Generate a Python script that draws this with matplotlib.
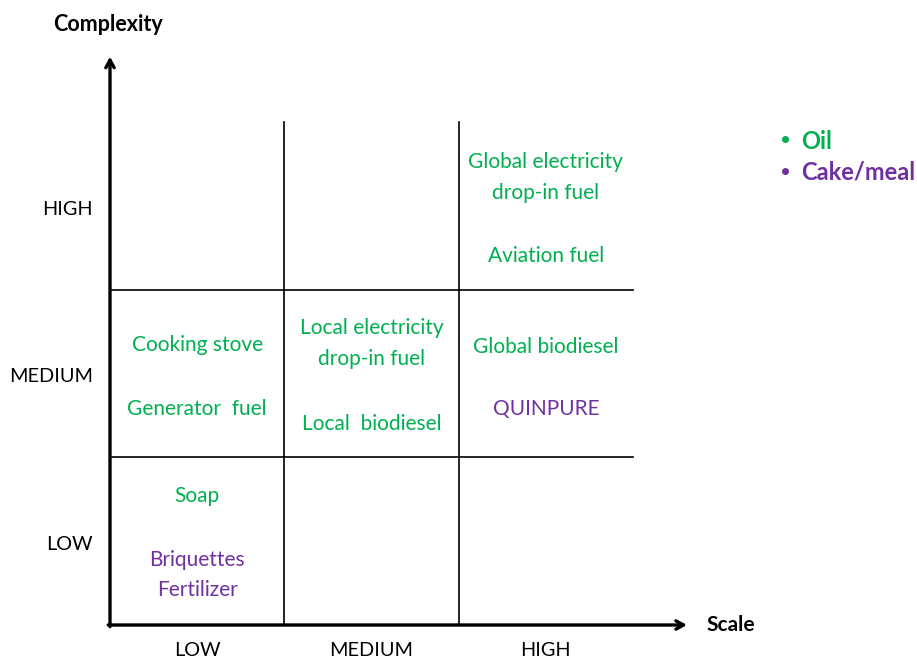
import matplotlib
matplotlib.use("Agg")
import matplotlib.pyplot as plt

plt.rcParams['font.family'] = ['Lato', 'DejaVu Sans']

# --- data ---
scale_levels = ["LOW", "MEDIUM", "HIGH"]
complexity_levels = ["LOW", "MEDIUM", "HIGH"]
item_labels = ["Global electricity\ndrop-in fuel", "Aviation fuel",
               "Cooking stove", "Generator  fuel",
               "Local electricity\ndrop-in fuel", "Local  biodiesel",
               "Global biodiesel", "QUINPURE",
               "Soap", "Briquettes\nFertilizer"]
item_scale = [2, 2, 0, 0, 1, 1, 2, 2, 0, 0]            # column index
item_pos = [2.67, 2.20, 1.67, 1.29, 1.68, 1.20, 1.66, 1.29, 0.77, 0.30]
item_type = ["Oil", "Oil", "Oil", "Oil", "Oil", "Oil", "Oil", "Cake/meal", "Oil", "Cake/meal"]
legend_labels = ["Oil", "Cake/meal"]

colors = {"Oil": "#00B050", "Cake/meal": "#7030A0"}

fig = plt.figure(figsize=(9.17, 6.59), dpi=100)
ax = fig.add_axes([110/917, 34/659, 523/917, 503/659])
ax.set_xlim(0, 3)
ax.set_ylim(0, 3)
ax.axis('off')

# grid lines
for x in [1, 2]:
    ax.plot([x, x], [0, 3], color='black', lw=1.2, clip_on=False)
for y in [1, 2]:
    ax.plot([0, 3], [y, y], color='black', lw=1.2, clip_on=False)

# axes arrows
arrow_kw = dict(arrowstyle='->,head_length=0.55,head_width=0.3', lw=2.4, color='black',
                shrinkA=0, shrinkB=0)
ax.annotate('', xy=(3.31, 0), xytext=(-0.01, 0), arrowprops=arrow_kw, annotation_clip=False)
ax.annotate('', xy=(0, 3.39), xytext=(0, -0.01), arrowprops=arrow_kw, annotation_clip=False)

ax.text(-0.01, 3.58, "Complexity", ha='center', va='center', fontsize=15.5, fontweight='bold')
ax.text(3.56, 0.0, "Scale", ha='center', va='center', fontsize=15, fontweight='bold')

for i, lab in enumerate(complexity_levels):
    ax.text(-0.098, i + 0.48, lab, ha='right', va='center', fontsize=14.3)
for i, lab in enumerate(scale_levels):
    ax.text(i + 0.5, -0.155, lab, ha='center', va='center', fontsize=14.3)

for lab, c, y, t in zip(item_labels, item_scale, item_pos, item_type):
    ax.text(c + 0.5, y, lab, ha='center', va='center', fontsize=15,
            color=colors[t], linespacing=1.65)

# legend
for j, lab in enumerate(legend_labels):
    yy = 2.886 - j * 0.186
    ax.plot([3.87], [yy + 0.01], 'o', color=colors[lab], ms=4, clip_on=False)
    ax.text(3.965, yy, lab, ha='left', va='center', fontsize=17, fontweight='bold',
            color=colors[lab])

fig.savefig("out.png", dpi=100)
